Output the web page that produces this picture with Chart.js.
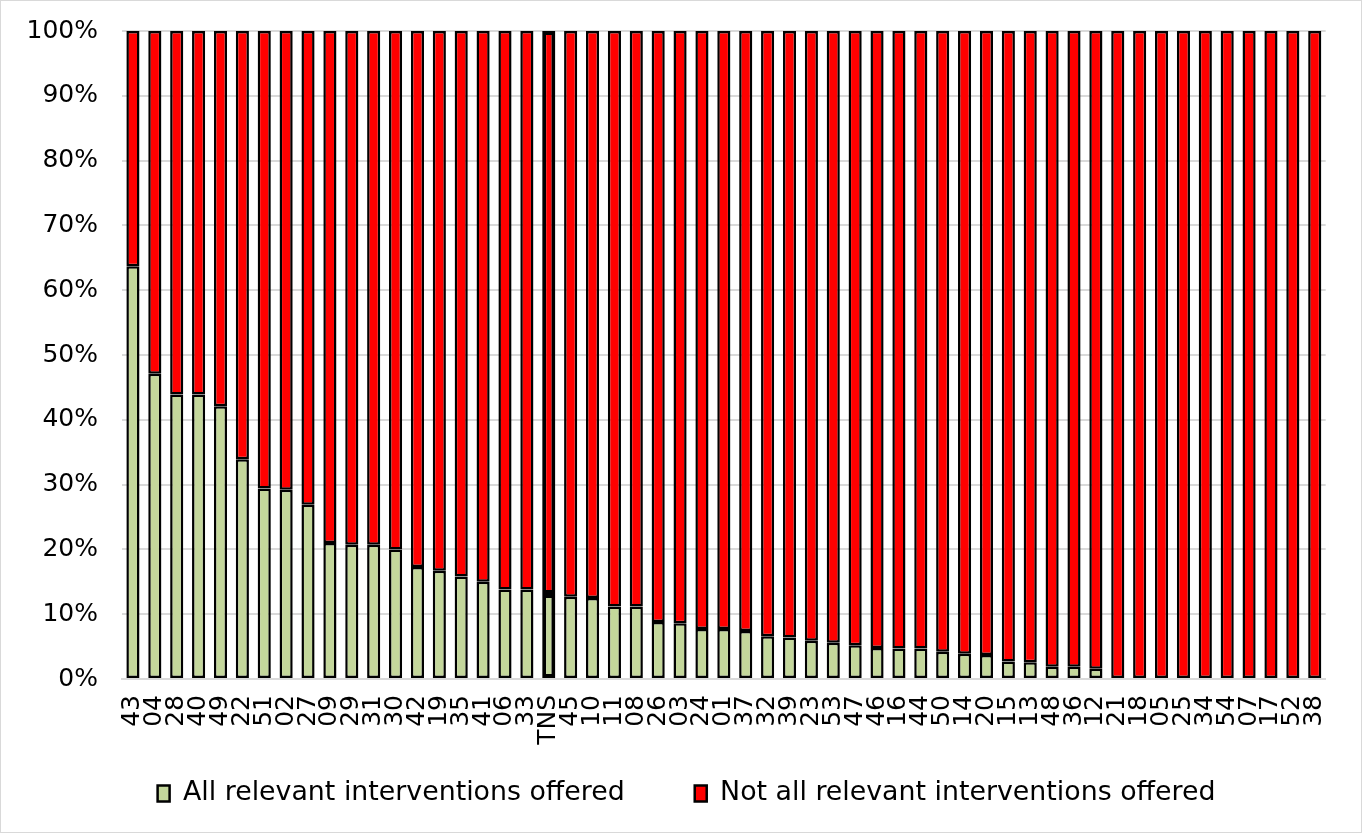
<!DOCTYPE html>
<html>
<head>
<meta charset="utf-8">
<script src="https://cdn.jsdelivr.net/npm/chart.js@4"></script>
<style>
  html,body{margin:0;padding:0;background:#fff;}
  #wrap{width:1362px;height:833px;box-sizing:border-box;border:1px solid #d9d9d9;}
  canvas{display:block;}
</style>
</head>
<body>
<div id="wrap"><canvas id="c" width="1360" height="831"></canvas></div>
<script>
// categories (area codes), sorted by share offering all interventions
const codes = ['43','04','28','40','49','22','51','02','27','09','29','31','30','42','19','35','41','06','33','TNS',
  '45','10','11','08','26','03','24','01','37','32','39','23','53','47','46','16','44','50','14','20',
  '15','13','48','36','12','21','18','05','25','34','54','07','17','52','38'];

// % with all relevant interventions offered
const allOffered = [63.7,47.1,43.9,43.9,42.1,33.9,29.4,29.2,26.9,21.0,20.7,20.7,20.0,17.3,16.7,15.8,15.0,13.8,13.8,13.1,
  12.7,12.5,11.2,11.2,8.8,8.6,7.7,7.7,7.4,6.6,6.4,5.9,5.6,5.2,4.8,4.7,4.7,4.2,3.9,3.7,
  2.7,2.6,1.9,1.9,1.6,0,0,0,0,0,0,0,0,0,0];
const notAllOffered = allOffered.map(v => +(100 - v).toFixed(1));

const yTicks = [0,10,20,30,40,50,60,70,80,90,100];

const FONT = 'DejaVu Sans, Verdana, sans-serif';
const bw = codes.map(c => c === 'TNS' ? 4 : 2.5);
const LEGEND_GAP = 70;

// wide gap between legend items without a tall legend box: move the box up after layout
const legendPlace = {
  id: 'legendPlace',
  afterLayout(chart) {
    const l = chart.legend;
    l.top = 792 - LEGEND_GAP - 13;
    l.height = LEGEND_GAP + 40;
    l.bottom = l.top + l.height;
    l.left += 20; l.right += 20;
  }
};

new Chart(document.getElementById('c'), {
  type: 'bar',
  data: {
    labels: codes,
    datasets: [
      { label: 'All relevant interventions offered', data: allOffered,
        backgroundColor: '#c4d79b', borderColor: '#000', borderWidth: bw, borderSkipped: false,
        barPercentage: 0.6, categoryPercentage: 1 },
      { label: 'Not all relevant interventions offered', data: notAllOffered,
        backgroundColor: '#ff0000', borderColor: '#000', borderWidth: bw, borderSkipped: false,
        barPercentage: 0.6, categoryPercentage: 1 }
    ]
  },
  plugins: [legendPlace],
  options: {
    responsive: false,
    animation: false,
    layout: { padding: { top: 30, right: 29, left: 0, bottom: 36 } },
    plugins: {
      tooltip: { enabled: false },
      legend: {
        position: 'bottom',
        maxHeight: 45,
        labels: { color: '#000', font: { family: FONT, size: 26.8 }, boxWidth: 12, boxHeight: 16, padding: LEGEND_GAP }
      }
    },
    scales: {
      x: {
        stacked: true,
        grid: { display: false, drawTicks: false },
        border: { display: true, color: '#d9d9d9', width: 2 },
        ticks: { color: '#000', font: { family: FONT, size: 25 }, minRotation: 90, maxRotation: 90, autoSkip: false, padding: 16 },
        afterFit: s => { s.height = 72; }
      },
      y: {
        stacked: true,
        min: 0, max: 100,
        afterBuildTicks: s => { s.ticks = yTicks.map(v => ({ value: v })); },
        grid: { color: '#d9d9d9', lineWidth: 2, drawTicks: false },
        border: { display: false },
        ticks: { color: '#000', font: { family: FONT, size: 25 }, padding: 24, callback: v => v + '%' },
        afterFit: s => { s.width = 121; s.paddingTop = 0; s.paddingBottom = 0; }
      }
    }
  }
});
</script>
</body>
</html>
